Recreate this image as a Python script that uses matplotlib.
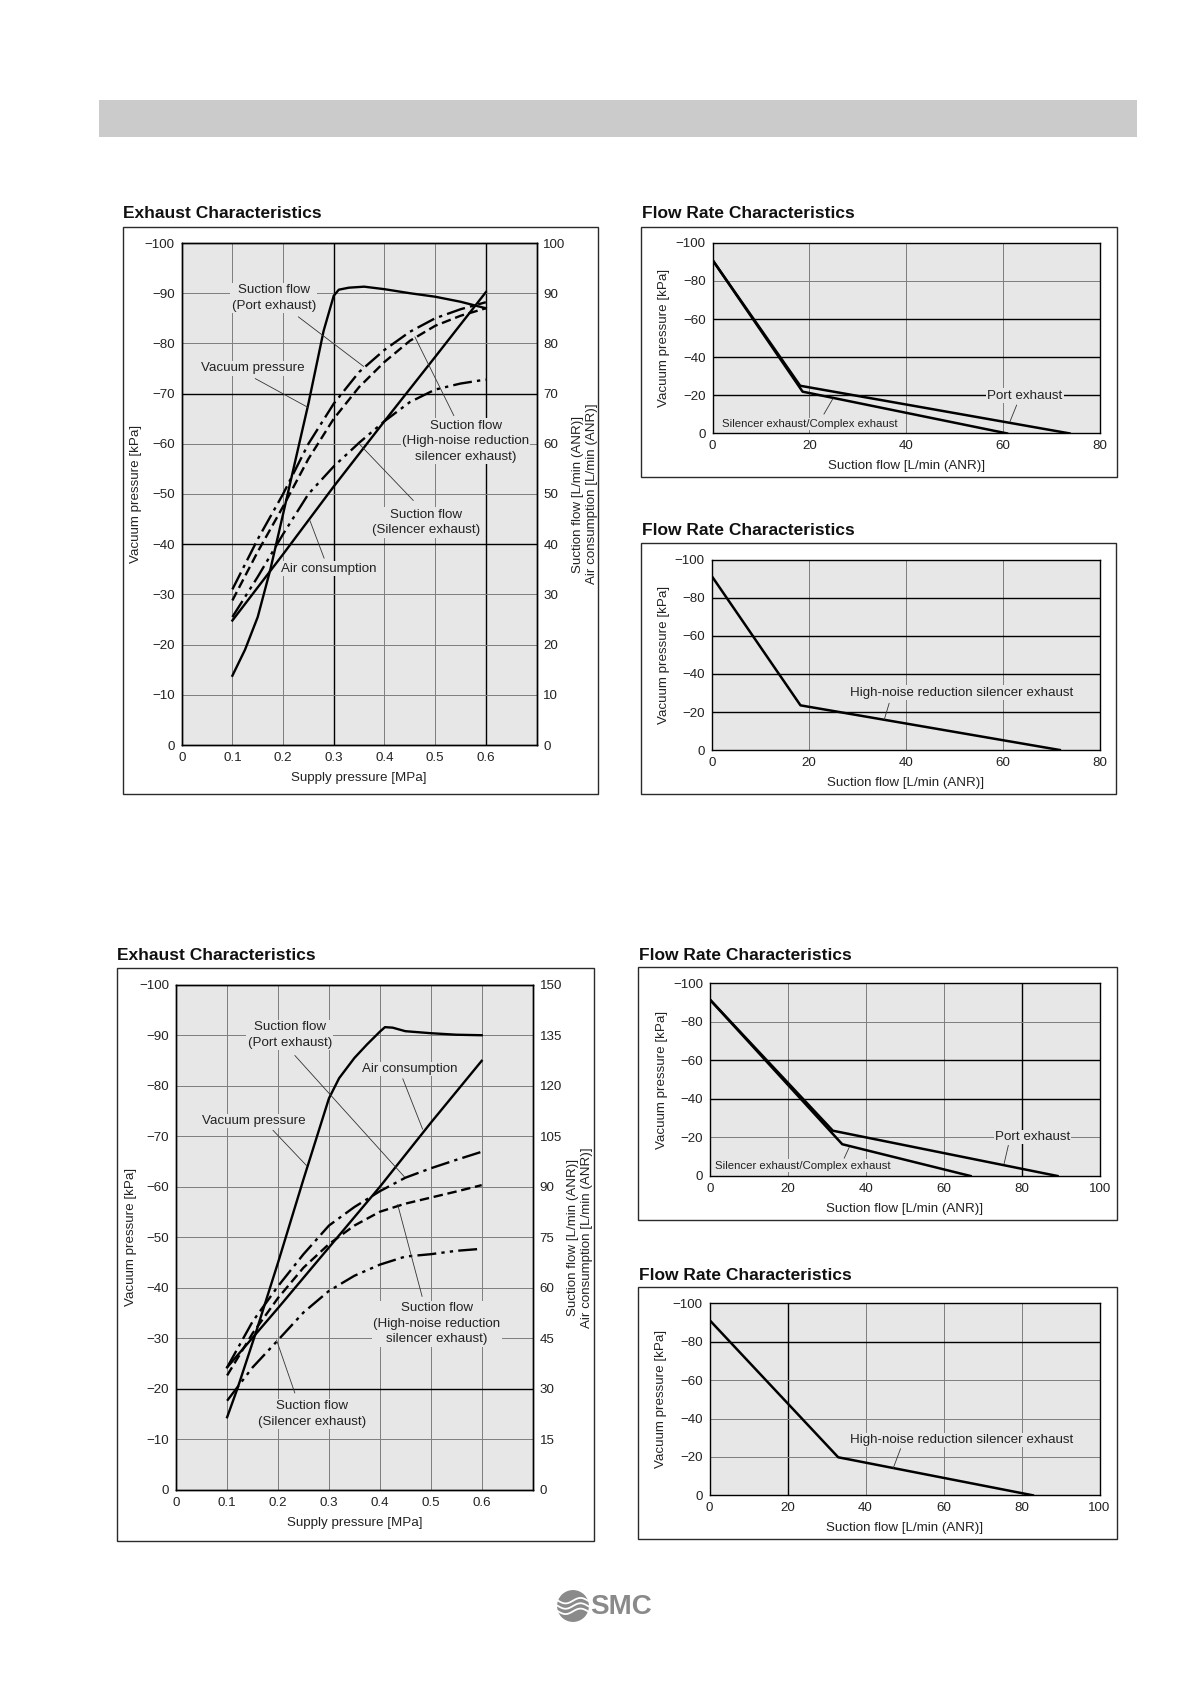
import numpy as np
import matplotlib.pyplot as plt
from matplotlib.patches import Rectangle, Circle

plt.rcParams['font.family'] = ['Liberation Sans', 'DejaVu Sans']

W, H = 1191, 1684
BG = '#e7e7e7'
GRID = '#7d7d7d'
DASHDOT = (0, (8, 2.2, 1.4, 2.2))
DASHED = (0, (4, 2))
DASHDOTDOT = (0, (8, 2.2, 1.4, 2.2, 1.4, 2.2))

# ---- Exhaust characteristics (upper) ----
vac_a_x = [0.1, 0.125, 0.15, 0.175, 0.2, 0.25, 0.28, 0.3, 0.31, 0.33, 0.36, 0.4, 0.45, 0.5, 0.55, 0.6]
vac_a = [-13.8, -19, -25.5, -35, -46, -68, -82.5, -89.5, -90.7, -91.1, -91.3, -90.8, -90, -89.3, -88.3, -87]
sp_a = [0.1, 0.15, 0.2, 0.25, 0.3, 0.35, 0.4, 0.45, 0.5, 0.55, 0.6]
port_a = [31, 41, 50, 60, 68, 74.3, 78.7, 82.3, 85, 86.8, 88.2]
hn_a = [28.8, 38.5, 47.5, 57, 65, 71.3, 76.3, 80.5, 83.5, 85.5, 87]
sil_a = [25.5, 33.5, 42, 50, 55.5, 60.2, 64.5, 68.3, 70.8, 72, 72.8]
air_a_x = [0.1, 0.2, 0.3, 0.4, 0.5, 0.6]
air_a = [24.8, 38.0, 51.5, 64.5, 77.3, 90.2]

# ---- Exhaust characteristics (lower) ----
vac_b_x = [0.1, 0.12, 0.155, 0.2, 0.25, 0.3, 0.32, 0.35, 0.375, 0.4, 0.41, 0.425, 0.45, 0.5, 0.55, 0.6]
vac_b = [-14.4, -20, -30.7, -45, -61.5, -77.5, -81.5, -85.5, -88.2, -90.7, -91.6, -91.5, -90.8, -90.4, -90.1, -90]
sp_b = [0.1, 0.15, 0.2, 0.25, 0.3, 0.35, 0.4, 0.45, 0.5, 0.55, 0.6]
port_b = [36.4, 50, 60.5, 70, 78.5, 84, 88.7, 92.7, 95.5, 98, 100.4]
hn_b = [34, 46.5, 57, 66, 73, 78.5, 82.6, 85, 86.8, 88.6, 90.5]
sil_b = [26.5, 36.4, 44.5, 52.7, 59.1, 63.6, 66.9, 69.3, 70, 71, 71.6]
air_b_x = [0.1, 0.2, 0.3, 0.4, 0.5, 0.6]
air_b = [36.4, 54, 72, 90, 109, 127.4]

# ---- Flow rate characteristics ----
fr1_port_q = [0, 18.1, 73.7]
fr1_port_p = [-91, -25, 0]
fr1_sil_q = [0, 18.6, 60.8]
fr1_sil_p = [-91, -21.9, 0]
fr2_hn_q = [0, 18.3, 71.8]
fr2_hn_p = [-91.5, -23.5, 0]
fr3_port_q = [0, 31.5, 89.1]
fr3_port_p = [-91.5, -23.5, 0]
fr3_sil_q = [0, 33.9, 66.8]
fr3_sil_p = [-91.5, -16.5, 0]
fr4_hn_q = [0, 33, 82.9]
fr4_hn_p = [-91.3, -19.8, 0]

fig = plt.figure(figsize=(W / 100, H / 100), dpi=100)


def px_axes(l, t, r, b):
    return fig.add_axes([l / W, 1 - b / H, (r - l) / W, (b - t) / H])


def frame_box(box, title, title_x, title_y):
    l, t, r, b = box
    fig.patches.append(Rectangle((l / W, 1 - b / H), (r - l) / W, (b - t) / H,
                                 transform=fig.transFigure, fill=False,
                                 edgecolor='#2a2a2a', lw=1.0))
    fig.text(title_x / W, 1 - title_y / H, title, fontsize=12.5,
             fontweight='bold', va='center', ha='left', color='#111')


def near(v, lst):
    return any(abs(v - d) < 1e-9 for d in lst)


def draw_grid(ax, xs, ys, dark_x, dark_y):
    for x in xs:
        dk = near(x, dark_x)
        ax.axvline(x, color='black' if dk else GRID, lw=1.0 if dk else 0.7, zorder=1)
    for y in ys:
        dk = near(y, dark_y)
        ax.axhline(y, color='black' if dk else GRID, lw=1.0 if dk else 0.7, zorder=1)


def style_axes(ax):
    ax.set_facecolor(BG)
    for s in ax.spines.values():
        s.set_color('black')
        s.set_linewidth(1.0)
    ax.tick_params(length=0, pad=5, labelsize=9.6, colors='#222')


def note(ax_txt, ax_data, text, pos, start, end, size=9.6):
    ax_txt.text(pos[0], pos[1], text, transform=ax_data.transData, ha='center',
                va='center', multialignment='center', fontsize=size,
                linespacing=1.4, color='#222', zorder=5,
                bbox=dict(facecolor=BG, edgecolor='none', pad=1.0))
    ax_txt.annotate('', xy=end, xytext=start, xycoords=ax_data.transData,
                    textcoords=ax_data.transData,
                    arrowprops=dict(arrowstyle='-', lw=0.6, color='#333',
                                    shrinkA=0, shrinkB=0), zorder=5)


def exhaust_panel(box, plot, title_xy, vac_x, vac, sp, port, hn, sil, air_x, air,
                  rmax, rstep, dark_x, dark_y, notes, lab_x, rlab_x, xlab_y):
    frame_box(box, 'Exhaust Characteristics', *title_xy)
    ax = px_axes(*plot)
    style_axes(ax)
    ax.set_xlim(0, 0.7)
    ax.set_ylim(0, -100)
    ax.set_xticks([0, 0.1, 0.2, 0.3, 0.4, 0.5, 0.6])
    ax.set_xticklabels(['0', '0.1', '0.2', '0.3', '0.4', '0.5', '0.6'])
    ax.set_yticks(range(0, -101, -10))
    draw_grid(ax, [0.1, 0.2, 0.3, 0.4, 0.5, 0.6], range(-10, -100, -10), dark_x, dark_y)
    ax.plot(vac_x, vac, color='black', lw=1.7, zorder=3)

    ax2 = ax.twinx()
    ax2.set_ylim(0, rmax)
    ax2.set_yticks(range(0, rmax + 1, rstep))
    style_axes(ax2)
    ax2.plot(sp, port, color='black', lw=1.7, ls=DASHDOT)
    ax2.plot(sp, hn, color='black', lw=1.7, ls=DASHED)
    ax2.plot(sp, sil, color='black', lw=1.7, ls=DASHDOTDOT)
    ax2.plot(air_x, air, color='black', lw=1.7)

    for text, pos, start, end in notes:
        note(ax2, ax, text, pos, start, end)

    ax.set_xlabel('Supply pressure [MPa]', fontsize=9.6, color='#222')
    ax.xaxis.set_label_coords(0.5, xlab_y)
    ax.set_ylabel('Vacuum pressure [kPa]', fontsize=9.6, color='#222')
    ax.yaxis.set_label_coords(lab_x, 0.5)
    ax2.set_ylabel('Suction flow [L/min (ANR)]\nAir consumption [L/min (ANR)]',
                   fontsize=9.6, color='#222', linespacing=1.2)
    ax2.yaxis.set_label_coords(rlab_x, 0.5)


def flow_panel(box, plot, title_xy, xmax, series, dark_x, dark_y, notes, lab_x, xlab_y):
    frame_box(box, 'Flow Rate Characteristics', *title_xy)
    ax = px_axes(*plot)
    style_axes(ax)
    ax.set_xlim(0, xmax)
    ax.set_ylim(0, -100)
    ax.set_xticks(range(0, xmax + 1, 20))
    ax.set_yticks(range(0, -101, -20))
    draw_grid(ax, range(20, xmax, 20), range(-20, -100, -20), dark_x, dark_y)
    for q, p in series:
        ax.plot(q, p, color='black', lw=1.8, zorder=3)
    for text, pos, start, end, size in notes:
        note(ax, ax, text, pos, start, end, size)
    ax.set_xlabel('Suction flow [L/min (ANR)]', fontsize=9.6, color='#222')
    ax.xaxis.set_label_coords(0.5, xlab_y)
    ax.set_ylabel('Vacuum pressure [kPa]', fontsize=9.6, color='#222')
    ax.yaxis.set_label_coords(lab_x, 0.5)


# header band
fig.patches.append(Rectangle((99 / W, 1 - 136.5 / H), 1038 / W, 36.5 / H,
                             transform=fig.transFigure, facecolor='#cbcbcb',
                             edgecolor='none'))

exhaust_panel((122.5, 226.8, 597.5, 794.4), (181.7, 243, 536.5, 745), (123, 214),
              vac_a_x, vac_a, sp_a, port_a, hn_a, sil_a, air_a_x, air_a, 100, 10,
              [0.3, 0.6], [-70, -40],
              [('Suction flow\n(Port exhaust)', (0.182, -89), (0.23, -85.3), (0.359, -75.4)),
               ('Vacuum pressure', (0.141, -75), (0.145, -73), (0.25, -67.2)),
               ('Suction flow\n(High-noise reduction\nsilencer exhaust)', (0.56, -60.5),
                (0.537, -65.6), (0.46, -81.3)),
               ('Suction flow\n(Silencer exhaust)', (0.482, -44.3), (0.457, -48.7), (0.349, -60.1)),
               ('Air consumption', (0.29, -35.1), (0.281, -37.2), (0.253, -44.7))],
              -0.112, 1.100, -0.053)

flow_panel((640.7, 226.8, 1116.7, 477), (712.5, 242.8, 1100, 433.4), (641.5, 214), 80,
           [(fr1_port_q, fr1_port_p), (fr1_sil_q, fr1_sil_p)],
           [], [-60, -40, -20],
           [('Port exhaust', (64.5, -19.8), (62.8, -14.9), (61.4, -6.1), 9.6),
            ('Silencer exhaust/Complex exhaust', (20.1, -4.9), (23, -10.1), (24.9, -18.4), 8.2)],
           -0.109, -0.14)

flow_panel((640.7, 543.3, 1116, 794.3), (711.8, 560, 1099.5, 750), (641.5, 530.7), 80,
           [(fr2_hn_q, fr2_hn_p)],
           [], [-80, -60, -40, -20],
           [('High-noise reduction silencer exhaust', (51.5, -30.2), (36.6, -24.6), (35.6, -16.1), 9.6)],
           -0.109, -0.14)

exhaust_panel((116.5, 967.5, 594.3, 1540.5), (176.2, 984.7, 532.6, 1490), (117.3, 955.7),
              vac_b_x, vac_b, sp_b, port_b, hn_b, sil_b, air_b_x, air_b, 150, 15,
              [], [-20],
              [('Suction flow\n(Port exhaust)', (0.223, -90), (0.233, -86), (0.448, -62)),
               ('Air consumption', (0.458, -83.3), (0.445, -81.4), (0.484, -71.4)),
               ('Vacuum pressure', (0.153, -73), (0.19, -71.2), (0.256, -64.2)),
               ('Suction flow\n(High-noise reduction\nsilencer exhaust)', (0.512, -32.9),
                (0.483, -38.3), (0.435, -56.5)),
               ('Suction flow\n(Silencer exhaust)', (0.266, -15), (0.233, -19.2), (0.197, -29.7))],
              -0.111, 1.096, -0.053)

flow_panel((638.3, 967.3, 1116.7, 1220), (710, 983.3, 1100, 1176), (639.3, 955.7), 100,
           [(fr3_port_q, fr3_port_p), (fr3_sil_q, fr3_sil_p)],
           [80], [-60, -40],
           [('Port exhaust', (82.7, -20.2), (76.5, -15.9), (75.4, -6.3), 9.6),
            ('Silencer exhaust/Complex exhaust', (23.8, -5.4), (34.4, -9.2), (35.7, -14.9), 8.2)],
           -0.108, -0.14)

flow_panel((638.3, 1286.7, 1116.7, 1539.3), (709.5, 1303.3, 1099.5, 1495.3), (639.3, 1275), 100,
           [(fr4_hn_q, fr4_hn_p)],
           [20], [-80],
           [('High-noise reduction silencer exhaust', (64.6, -28.8), (49, -24.3), (47.1, -14.1), 9.6)],
           -0.108, -0.14)

# SMC logo at the foot of the page
lg = px_axes(557, 1590, 589, 1622)
lg.set_xlim(-1.05, 1.05)
lg.set_ylim(-1.05, 1.05)
lg.set_aspect('equal')
lg.axis('off')
lg.add_patch(Circle((0, 0), 1.0, color='#8a8a8a'))
t = np.linspace(-1.2, 1.2, 60)
for off in [-0.35, 0.0, 0.35]:
    lg.plot(t, off + 0.18 * np.sin(t * 3.2), color='white', lw=1.3)
fig.text(590 / W, 1 - 1607 / H, 'SMC', fontsize=20, fontweight='bold',
         color='#8a8a8a', ha='left', va='center')

fig.savefig('out.png', dpi=100)
